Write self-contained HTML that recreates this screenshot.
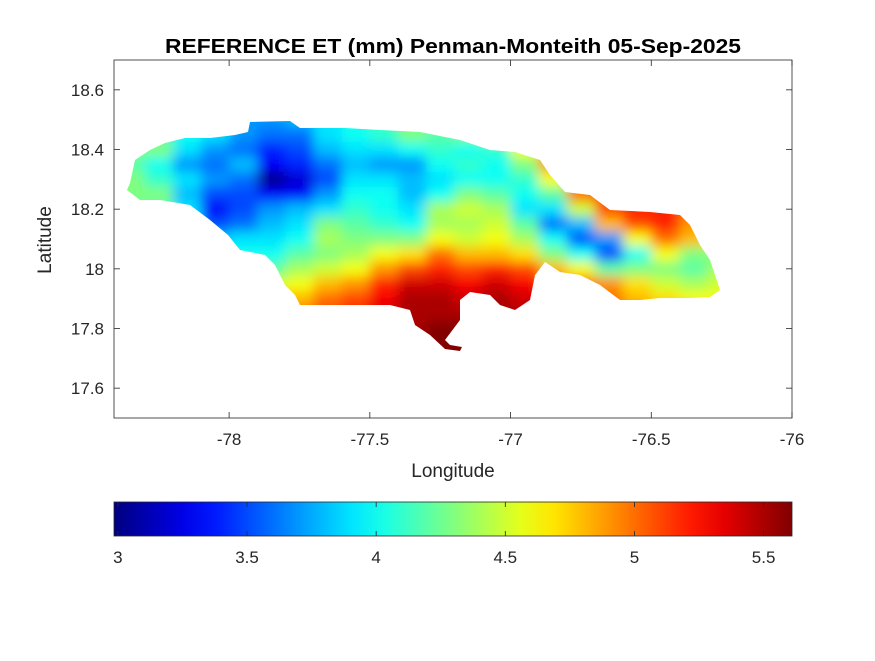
<!DOCTYPE html>
<html><head><meta charset="utf-8"><style>
body{margin:0;background:#fff;font-family:"Liberation Sans",Arial,sans-serif}
svg text{font-family:"Liberation Sans",Arial,sans-serif}
</style></head><body>
<svg id="chart" width="875" height="656" viewBox="0 0 875 656" xmlns="http://www.w3.org/2000/svg">
<defs>
<filter id="blur" x="-5%" y="-5%" width="110%" height="110%"><feGaussianBlur stdDeviation="6"/></filter>
<clipPath id="island"><path id="islandPath" d=""/></clipPath>
<linearGradient id="jetGrad" x1="0" x2="1" y1="0" y2="0"></linearGradient>
</defs>
<rect x="0" y="0" width="875" height="656" fill="#fff"/>
<text x="453" y="53" text-anchor="middle" font-size="20" font-weight="bold" fill="#000" textLength="576" lengthAdjust="spacingAndGlyphs">REFERENCE ET (mm) Penman-Monteith 05-Sep-2025</text>
<rect x="114" y="60" width="678" height="358" fill="#fff" stroke="none"/>
<g id="field" clip-path="url(#island)"><g id="cells" filter="url(#blur)"></g></g>
<rect x="114" y="60" width="678" height="358" fill="none" stroke="#262626" stroke-width="0.8"/>
<g id="xticks"></g>
<g id="yticks"></g>
<text x="453" y="477" text-anchor="middle" font-size="19" fill="#262626">Longitude</text>
<text transform="translate(51,240) rotate(-90)" text-anchor="middle" font-size="19" fill="#262626">Latitude</text>
<rect x="114" y="502" width="678" height="34" fill="url(#jetGrad)" stroke="#262626" stroke-width="0.8"/>
<g id="cbticks"></g>
</svg>
<script>
const lons=[-78.35,-78.25,-78.15,-78.05,-77.95,-77.85,-77.75,-77.65,-77.55,-77.45,-77.35,-77.25,-77.15,-77.05,-76.95,-76.85,-76.75,-76.65,-76.55,-76.45,-76.35,-76.25];
const lats=[18.5,18.45,18.4,18.35,18.3,18.25,18.2,18.15,18.1,18.05,18.0,17.95,17.9,17.85,17.8,17.75];
const etValues=[
[3.9,3.9,3.8,3.8,3.7,3.7,3.8,3.9,4.0,4.1,4.3,4.2,4.3,4.4,4.6,4.9,5.0,5.1,5.2,5.2,5.0,4.9],
[4.2,4.2,4.0,3.9,3.7,3.6,3.6,3.9,4.0,4.1,4.3,4.2,4.3,4.4,4.6,4.9,5.0,5.1,5.2,5.2,5.0,4.9],
[4.3,4.3,3.9,3.7,3.6,3.4,3.5,3.8,3.9,3.9,4.0,4.1,4.0,4.1,4.6,4.9,5.0,5.1,5.2,5.2,5.0,4.9],
[4.2,4.0,3.7,3.6,3.8,3.3,3.4,3.6,3.8,3.7,3.7,4.0,4.1,4.0,4.3,4.9,5.0,5.1,5.2,5.2,5.0,4.9],
[4.3,4.1,3.9,3.7,3.6,3.0,3.2,3.5,3.9,3.9,3.8,3.9,4.0,4.0,4.1,4.6,5.0,5.1,5.2,5.2,5.0,4.9],
[4.3,4.3,3.8,3.5,3.5,3.3,3.3,3.7,4.0,4.0,3.8,4.0,4.3,4.2,4.0,4.2,5.0,5.1,5.2,5.2,5.0,4.9],
[4.2,4.2,3.9,3.3,3.5,3.7,3.8,3.9,4.1,4.0,3.9,4.4,4.5,4.4,3.9,3.9,4.5,5.1,5.2,5.2,5.0,4.9],
[4.2,4.1,3.9,3.5,3.6,3.8,3.9,4.3,4.2,4.1,4.0,4.4,4.4,4.5,4.2,3.6,3.8,4.8,5.1,5.2,4.9,4.8],
[4.1,4.0,3.9,3.8,3.9,3.9,4.0,4.4,4.3,4.3,4.3,4.6,4.5,4.6,4.4,4.0,3.5,3.7,4.6,5.0,4.8,4.6],
[4.1,4.0,4.0,4.0,4.0,4.0,4.2,4.3,4.4,4.6,4.7,5.0,4.8,4.8,4.7,4.3,4.0,3.5,4.0,4.6,4.3,4.3],
[4.2,4.2,4.2,4.2,4.2,4.2,4.4,4.5,4.6,4.9,5.1,5.2,5.1,5.2,5.1,4.8,4.6,4.2,4.3,4.3,4.2,4.4],
[4.5,4.5,4.5,4.5,4.5,4.5,4.6,4.8,4.9,5.2,5.4,5.4,5.3,5.4,5.3,5.1,5.0,4.9,4.7,4.5,4.4,4.5],
[4.8,4.8,4.8,4.8,4.8,4.8,4.8,5.0,5.1,5.3,5.5,5.5,5.4,5.5,5.4,5.2,5.0,5.0,4.8,4.7,4.6,4.6],
[5.0,5.0,5.0,5.0,5.0,5.0,5.0,5.1,5.2,5.4,5.5,5.5,5.5,5.5,5.5,5.3,5.0,5.0,5.0,5.0,5.0,5.0],
[5.5,5.5,5.5,5.5,5.5,5.5,5.5,5.5,5.5,5.5,5.5,5.6,5.6,5.5,5.5,5.5,5.5,5.5,5.5,5.5,5.5,5.5],
[5.6,5.6,5.6,5.6,5.6,5.6,5.6,5.6,5.6,5.6,5.6,5.6,5.6,5.6,5.6,5.6,5.6,5.6,5.6,5.6,5.6,5.6]
];
const xTicks=[-78,-77.5,-77,-76.5,-76];
const yTicks=[17.6,17.8,18,18.2,18.4,18.6];
const cbTicks=[3,3.5,4,4.5,5,5.5];
const xDomain=[-78.409,-76.0], yDomain=[17.5,18.7], cDomain=[2.985,5.61];
const NS="http://www.w3.org/2000/svg";
function xS(v){return 114+(v-xDomain[0])/(xDomain[1]-xDomain[0])*678;}
function yS(v){return 418-(v-yDomain[0])/(yDomain[1]-yDomain[0])*358;}
function cS(v){return 114+(v-cDomain[0])/(cDomain[1]-cDomain[0])*678;}
function cl(v){return Math.max(0,Math.min(1,v));}
function jet(t){const r=cl(1.5-Math.abs(4*t-3)),g=cl(1.5-Math.abs(4*t-2)),b=cl(1.5-Math.abs(4*t-1));return `rgb(${Math.round(r*255)},${Math.round(g*255)},${Math.round(b*255)})`;}
function colorOf(v){return jet((v-cDomain[0])/(cDomain[1]-cDomain[0]));}
function mk(tag,attrs,parent){const e=document.createElementNS(NS,tag);for(const k in attrs)e.setAttribute(k,attrs[k]);parent.appendChild(e);return e;}
const outline=[[127,190],[130,183],[135,160],[150,150],[165,143],[185,138],[210,138],[235,135],[248,132],[250,122],[290,121],[300,128],[345,128],[380,130],[420,132],[460,140],[490,150],[515,152],[540,160],[550,175],[565,192],[590,195],[610,210],[650,212],[680,215],[690,225],[700,245],[710,260],[720,290],[710,297],[690,298],[660,298],[640,300],[620,300],[600,285],[580,275],[560,272],[545,262],[535,275],[530,300],[515,310],[500,305],[490,295],[470,292],[460,300],[460,320],[445,340],[450,345],[462,347],[460,351],[445,349],[430,335],[415,325],[410,310],[390,305],[350,305],[300,305],[295,295],[285,285],[275,265],[265,255],[240,250],[228,235],[210,220],[190,205],[160,200],[140,200]];
document.getElementById('islandPath').setAttribute('d','M'+outline.map(p=>p.join(',')).join('L')+'Z');
const cells=document.getElementById('cells');
const dx=xS(lons[1])-xS(lons[0]), dy=yS(lats[1])-yS(lats[0]);
for(let i=0;i<lats.length;i++){for(let j=0;j<lons.length;j++){
  const ext=(j===0?30:0), extR=(j===lons.length-1?30:0), extT=(i===0?20:0), extB=(i===lats.length-1?20:0);
  const r=mk('rect',{x:xS(lons[j])-dx/2-ext,y:yS(lats[i])-dy/2-extT,width:dx+1+ext+extR,height:dy+1+extT+extB,fill:colorOf(etValues[i][j])},cells);
  
  
}}
const xt=document.getElementById('xticks');
xTicks.forEach(v=>{const x=xS(v);
  mk('line',{x1:x,x2:x,y1:418,y2:412,stroke:'#262626','stroke-width':0.8},xt);
  mk('line',{x1:x,x2:x,y1:60,y2:66,stroke:'#262626','stroke-width':0.8},xt);
  const t=mk('text',{x:x,y:445,'text-anchor':'middle','font-size':17,fill:'#262626'},xt);t.textContent=String(v);
  
  });
const yt=document.getElementById('yticks');
yTicks.forEach(v=>{const y=yS(v);
  mk('line',{x1:114,x2:120,y1:y,y2:y,stroke:'#262626','stroke-width':0.8},yt);
  mk('line',{x1:792,x2:786,y1:y,y2:y,stroke:'#262626','stroke-width':0.8},yt);
  const t=mk('text',{x:104,y:y+6,'text-anchor':'end','font-size':17,fill:'#262626'},yt);t.textContent=String(v);
  
  });
const g=document.getElementById('jetGrad');
for(let k=0;k<=20;k++){mk('stop',{offset:(k/20),'stop-color':jet(k/20)},g);}
const cb=document.getElementById('cbticks');
cbTicks.forEach(v=>{const x=cS(v);
  mk('line',{x1:x,x2:x,y1:536,y2:531,stroke:'#262626','stroke-width':0.8},cb);
  mk('line',{x1:x,x2:x,y1:502,y2:507,stroke:'#262626','stroke-width':0.8},cb);
  const t=mk('text',{x:x,y:563,'text-anchor':'middle','font-size':17,fill:'#262626'},cb);t.textContent=String(v);
  
  });
</script>
</body></html>
